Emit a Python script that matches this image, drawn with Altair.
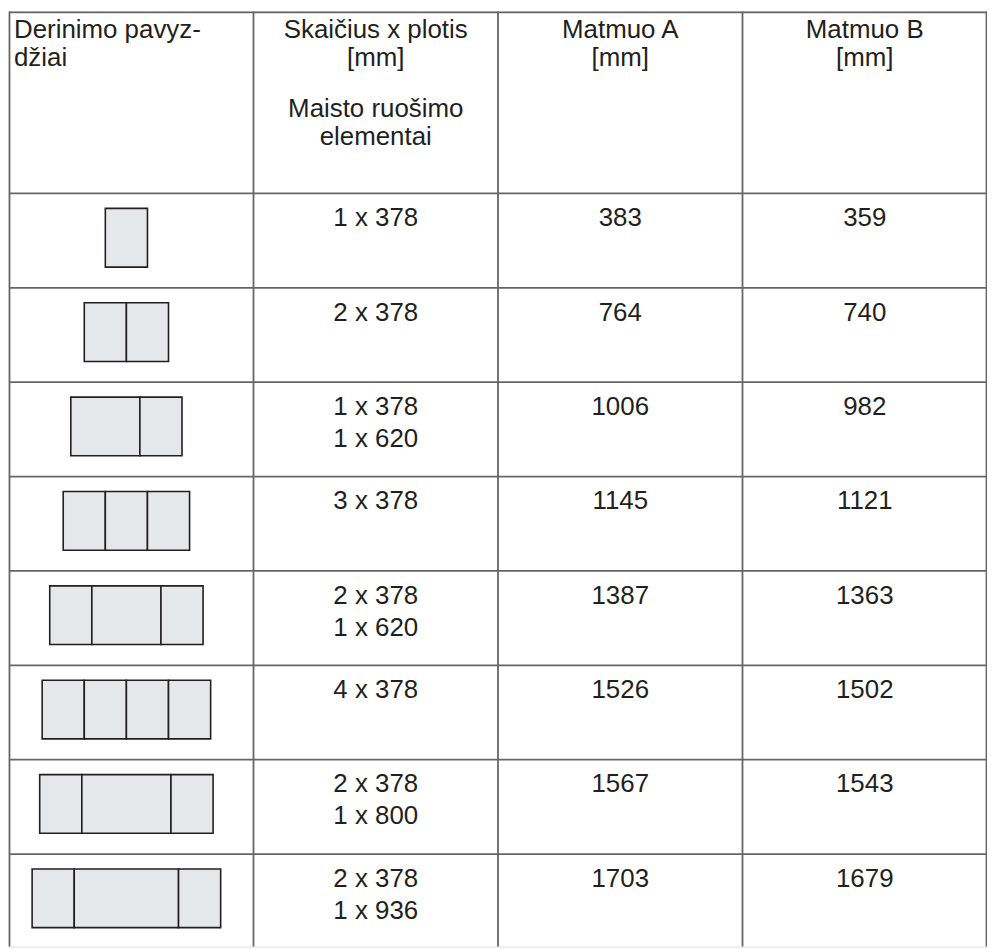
import altair as alt
import pandas as pd

# ---------------- data ----------------
header_labels = [
    "Derinimo pavyz-\ndžiai",
    "Skaičius x plotis\n[mm]",
    "Matmuo A\n[mm]",
    "Matmuo B\n[mm]",
]
header_sub = "Maisto ruošimo\nelementai"
# elements per row: (count, width mm)
elements = [
    [(1, 378)],
    [(2, 378)],
    [(1, 378), (1, 620)],
    [(3, 378)],
    [(2, 378), (1, 620)],
    [(4, 378)],
    [(2, 378), (1, 800)],
    [(2, 378), (1, 936)],
]
# order of the module widths in the drawn combination example (mm)
icon_segments = [
    [378],
    [378, 378],
    [620, 378],
    [378, 378, 378],
    [378, 620, 378],
    [378, 378, 378, 378],
    [378, 800, 378],
    [378, 936, 378],
]
dim_a = [383, 764, 1006, 1145, 1387, 1526, 1567, 1703]
dim_b = [359, 740, 982, 1121, 1363, 1502, 1543, 1679]

# ---------------- layout ----------------
W, H = 983, 940
HEADER_H = 183
ROW_H = 94.85
N = len(dim_a)
FONT = "Liberation Sans"
TXT = "#231f20"
GRID = "#666666"
PX_PER_MM = 0.112
ICON_CENTER = 118

xs = alt.Scale(domain=[0, 4], range=[0, W])
ys = alt.Scale(domain=[0, H], range=[0, H])
xs_icon = alt.Scale(domain=[-ICON_CENTER / PX_PER_MM, (W - ICON_CENTER) / PX_PER_MM],
                    range=[0, W])

row_top = [HEADER_H + i * ROW_H for i in range(N)]

# grid lines (the last row continues past the bottom of the picture)
hl = pd.DataFrame({"x0": 0, "x1": 4, "y": [1] + row_top})
vl = pd.DataFrame({"x": [0.002, 1, 2, 3, 3.998], "y0": 0, "y1": H})

hrules = alt.Chart(hl).mark_rule(color=GRID, strokeWidth=1.8).encode(
    x=alt.X("x0:Q", scale=xs, axis=None), x2="x1:Q",
    y=alt.Y("y:Q", scale=ys, axis=None))
vrules = alt.Chart(vl).mark_rule(color=GRID, strokeWidth=1.8).encode(
    x=alt.X("x:Q", scale=xs, axis=None),
    y=alt.Y("y0:Q", scale=ys, axis=None), y2="y1:Q")

# icons
recs = []
for i, segs in enumerate(icon_segments):
    total = sum(segs)
    start = -total / 2
    for s in segs:
        recs.append({"x0": start, "x1": start + s,
                     "y0": row_top[i] + 15, "y1": row_top[i] + 74})
        start += s
icons = alt.Chart(pd.DataFrame(recs)).mark_rect(
    fill="#e6e7e8", stroke="#231f20", strokeWidth=1.6).encode(
    x=alt.X("x0:Q", scale=xs_icon, axis=None), x2="x1:Q",
    y=alt.Y("y0:Q", scale=ys, axis=None), y2="y1:Q")

# header texts
hdr0 = pd.DataFrame({"x": [0], "y": [27], "t": [header_labels[0]]})
hdr = pd.DataFrame({"x": [1.5, 2.5, 3.5, 1.5], "y": [27, 27, 27, 106],
                    "t": header_labels[1:] + [header_sub]})
htext0 = alt.Chart(hdr0).mark_text(
    align="left", baseline="alphabetic", dx=5, font=FONT, fontSize=26,
    color=TXT, lineBreak="\n", lineHeight=28).encode(
    x=alt.X("x:Q", scale=xs, axis=None), y=alt.Y("y:Q", scale=ys, axis=None), text="t:N")
htext = alt.Chart(hdr).mark_text(
    align="center", baseline="alphabetic", font=FONT, fontSize=26,
    color=TXT, lineBreak="\n", lineHeight=28).encode(
    x=alt.X("x:Q", scale=xs, axis=None), y=alt.Y("y:Q", scale=ys, axis=None), text="t:N")

# body texts
body = []
for i in range(N):
    y = row_top[i] + 33
    body.append({"x": 1.5, "y": y,
                 "t": "\n".join(f"{c} x {w}" for c, w in elements[i])})
    body.append({"x": 2.5, "y": y, "t": str(dim_a[i])})
    body.append({"x": 3.5, "y": y, "t": str(dim_b[i])})
btext = alt.Chart(pd.DataFrame(body)).mark_text(
    align="center", baseline="alphabetic", font=FONT, fontSize=26,
    color=TXT, lineBreak="\n", lineHeight=32).encode(
    x=alt.X("x:Q", scale=xs, axis=None), y=alt.Y("y:Q", scale=ys, axis=None), text="t:N")

chart = alt.layer(hrules, vrules, icons, htext0, htext, btext).resolve_scale(
    x="independent").properties(
    width=W, height=H,
    autosize=alt.AutoSizeParams(type="none"),
    padding={"left": 1, "top": 1, "right": 0, "bottom": 0},
).configure_view(stroke=None).configure(background="white")

chart.save("out.html", embed_options={"renderer": "svg", "actions": False})
